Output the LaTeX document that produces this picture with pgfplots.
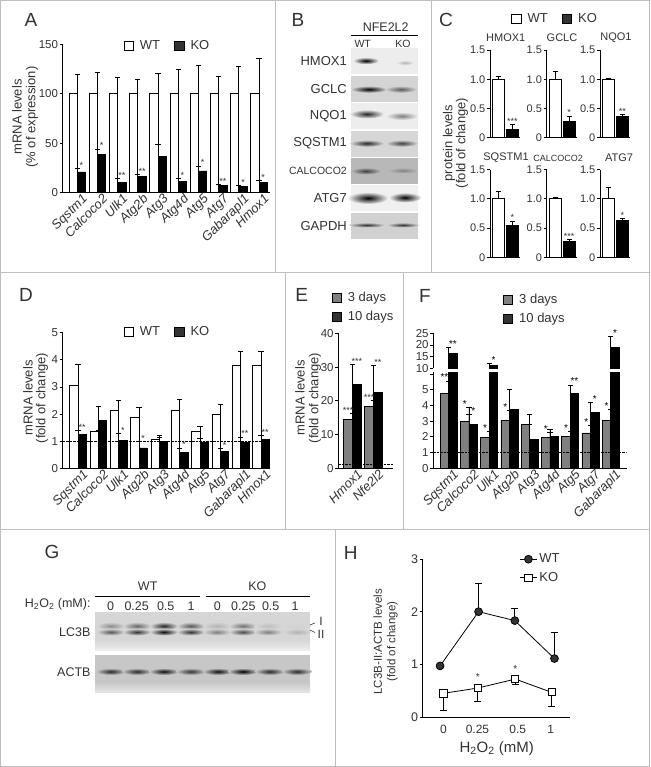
\documentclass[border=0pt]{standalone}
\usepackage{fontspec}
\setmainfont{Liberation Sans}
\usepackage{pgfplots}
\usepackage{pgfplotstable}
\pgfplotsset{compat=1.18}
\definecolor{txt}{HTML}{333333}
\definecolor{frame}{HTML}{BDBDBD}
\definecolor{bargray}{HTML}{808080}
\newcommand{\fs}[1]{\fontsize{#1}{#1}\selectfont}

% panel A
\pgfplotstableread{
x y t s
0 100 119.6 {}
1 100 122 {}
2 100 117 {}
3 100 115 {}
4 100 120.7 {}
5 100 124.7 {}
6 100 129 {}
7 100 117.6 {}
8 100 127.7 {}
9 100 135.8 {}
}\Awt
\pgfplotstableread{
x y t s
0 21 24.6 *
1 39 44 *
2 10 14 **
3 16 18 **
4 37 49 {}
5 11 14 *
6 22 27 *
7 7 8.5 **
8 6 7.5 *
9 10 12.5 *
}\Ako
% panel D
\pgfplotstableread{
x y t s
0 3.05 3.82 {}
1 1.37 1.40 {}
2 2.15 2.52 {}
3 1.87 2.25 {}
4 1.07 1.22 {}
5 2.12 2.55 {}
6 1.37 1.55 {}
7 1.97 2.35 {}
8 3.8 4.3 {}
9 3.8 4.3 {}
}\Dwt
\pgfplotstableread{
x y t s
0 1.25 1.38 **
1 1.78 2.28 {}
2 1.03 1.28 *
3 0.75 0.98 *
4 1.0 1.13 {}
5 0.6 0.75 *
6 0.97 1.1 {}
7 0.63 0.73 *
8 0.97 1.15 **
9 1.08 1.22 **
}\Dko
% panel E
\pgfplotstableread{
x y t s
0 14.5 16.3 ***
1 18.3 20 ***
}\Ethree
\pgfplotstableread{
x y t s
0 24.8 30.8 ***
1 22.4 30.4 **
}\Eten
% panel F
\pgfplotstableread{
x y t s
0 4.75 5.55 **
1 2.95 3.85 *
2 1.95 2.35 *
3 3.05 3.65 *
4 2.8 3.4 {}
5 1.95 2.25 *
6 2.05 2.35 *
7 2.25 2.7 *
8 3.02 3.75 *
}\Fthree
\pgfplotstableread{
x y t s
1 2.8 3.4 *
3 3.75 5.0 {}
4 1.85 2.8 {}
5 2.05 2.5 {}
6 4.75 5.3 **
7 3.55 4.2 *
}\Ften
\pgfplotstableread{
x y t s
0 16.5 19 **
2 11.3 12 *
8 19 23.5 *
}\Ftall
% panel H
\pgfplotstableread{
x y t
-0.09 0.97 0.97
0.95 2.0 2.54
1.93 1.83 2.06
3.0 1.11 1.61
}\Hwt
\pgfplotstableread{
x y b
0 0.45 0.13
0.93 0.55 0.29
1.94 0.72 0.61
2.92 0.47 0.2
}\Hko
\pgfplotstableread{
x y s
0.93 0.69 *
1.94 0.845 *
}\Hstar

\pgfplotsset{
  panel/.style={scale only axis, anchor=south west, axis x line*=bottom, axis y line*=left,
    axis line style={black, line width=0.8pt}, clip=false,
    /pgf/number format/assume math mode=true,
    tick style={black, line width=0.7pt}, tick align=outside, major tick length=3pt,
    xtick style={draw=none},
    y tick label style={font=\fs{11.5}, text=txt, inner sep=1.5pt}, xtick=data},
  genelabels/.style={x tick label style={font=\fs{13}\itshape, text=txt, rotate=45, anchor=north east, inner sep=0pt, xshift=5pt, yshift=-1pt}},
  sq/.style={legend image code/.code={\draw[##1] (0pt,-4.5pt) rectangle (9.5pt,4.5pt); \path (14pt,0pt);}},
  errs/.style={error bars/.cd, y dir=plus, y explicit, error bar style={black, line width=0.8pt},
    error mark options={rotate=90, black, mark size=2.6pt, line width=0.8pt}},
}
\def\bw{8.3pt}
\def\stf{\fs{9}}
\def\stc{txt}
\def\genes{Sqstm1,Calcoco2,Ulk1,Atg2b,Atg3,Atg4d,Atg5,Atg7,Gabarapl1,Hmox1}

% table, fill, bar shift
\newcommand{\bars}[3]{
  \addplot[forget plot, ybar, bar width=\bw, bar shift=#3, draw=black, line width=0.8pt, fill=#2, errs]
    table[x=x, y=y, y error expr=\thisrow{t}-\thisrow{y}] {#1};
  \addplot[forget plot, only marks, mark=*, mark size=0pt, draw=none, fill=none, point meta=explicit symbolic,
    nodes near coords, nodes near coords style={font=\stf, text=\stc, anchor=south, inner sep=0pt, xshift=#3}]
    table[x=x, y=t, meta=s] {#1};
}
% x, y of the legend, columns, images and entries
\newcommand{\legbox}[4]{
  \begin{axis}[hide axis, scale only axis, width=1pt, height=1pt, xmin=0, xmax=1, ymin=0, ymax=1,
    at={(#1pt,-#2pt)}, anchor=center, legend columns=#3, legend cell align=left,
    legend style={at={(0,0.5)}, anchor=west, draw=none, fill=none, inner sep=0pt, outer sep=0pt,
      font=\fs{13}, text=txt, row sep=4pt, /tikz/every even column/.append style={column sep=12pt}}]
    #4
  \end{axis}
}
% small panels of C: x, y, WT, top, KO, top, stars
\newcommand{\cpanel}[7]{
  \begin{axis}[panel, at={(#1pt,-#2pt)}, width=30pt, height=87.7pt, xmin=-0.6, xmax=1.54, ymin=0, ymax=1.5,
    ytick={0,0.5,1,1.5}, yticklabels={0,0.5,1.0,1.5}, xtick=\empty, y tick label style={font=\fs{11}}]
    \addplot[forget plot, ybar, bar width=12pt, bar shift=0pt, draw=black, line width=0.8pt, fill=white, errs]
      table[row sep=\\, x=x, y=y, y error expr=\thisrow{t}-\thisrow{y}] {x y t\\ 0 #3 #4\\};
    \addplot[forget plot, ybar, bar width=12pt, bar shift=0pt, draw=black, line width=0.8pt, fill=black, errs]
      table[row sep=\\, x=x, y=y, y error expr=\thisrow{t}-\thisrow{y}] {x y t\\ 1 #5 #6\\};
    \addplot[forget plot, only marks, mark=*, mark size=0pt, draw=none, fill=none, point meta=explicit symbolic,
      nodes near coords, nodes near coords style={font=\stf, text=txt, anchor=south, inner sep=0pt}]
      table[row sep=\\, x=x, y=t, meta=s] {x t s\\ 1 #6 #7\\};
  \end{axis}
}
\newcommand{\band}[6]{\shade[inner color=#5, outer color=#6] (#1,#2) ellipse [x radius=#3pt, y radius=#4pt];}
\begin{document}
\begin{tikzpicture}[x=1pt, y=-1pt]
\useasboundingbox (0,0) rectangle (650,767);
\fill[white] (0,0) rectangle (650,767);

% frames
\draw[frame, line width=0.9pt] (0.5,0.5) rectangle (649.5,766.5);
\draw[frame, line width=0.9pt] (0,272.3) -- (650,272.3) (0,529) -- (650,529);
\draw[frame, line width=0.9pt] (275,0) -- (275,272.3) (431.7,0) -- (431.7,272.3);
\draw[frame, line width=0.9pt] (285,272.3) -- (285,529) (403.5,272.3) -- (403.5,529);
\draw[frame, line width=0.9pt] (335.7,529) -- (335.7,767);

% panel letters
\foreach \l/\x/\y in {A/31/20, B/298/20, C/446/20, D/26/295, E/301.7/295, F/425/296, G/52/552, H/350.7/553}
  \node[font=\fs{19}, text=txt] at (\x,\y) {\l};

% ---- A
\begin{axis}[panel, genelabels, at={(62.7pt,-192.7pt)}, width=207.3pt, height=148.4pt, xmin=-0.72, xmax=9.54, ymin=0, ymax=150,
  ytick={0,50,100,150}, xtick={0,...,9}, xticklabels/.expanded={\genes}]
  \bars{\Awt}{white}{-4.15pt}
  \bars{\Ako}{black}{4.15pt}
\end{axis}
\legbox{124}{46}{2}{\addlegendimage{sq, black, fill=white}\addlegendentry{WT}\addlegendimage{sq, black, fill=txt}\addlegendentry{KO}}
\node[rotate=90, font=\fs{13}, text=txt] at (17,117) {mRNA levels};
\node[rotate=90, font=\fs{13}, text=txt] at (32,117) {(\% of expression)};

% ---- B
\foreach \n/\y/\f in {HMOX1/61/13, GCLC/89/13, NQO1/116/13, SQSTM1/143/13, CALCOCO2/171/10.5, ATG7/198/13, GAPDH/226/13}
  \node[anchor=east, font=\fs{\f}, text=txt, inner sep=0pt] at (347,\y) {\n};
\node[font=\fs{12.5}, text=txt] at (385.7,26.7) {NFE2L2};
\draw[black, line width=0.8pt] (350.7,35) -- (418.3,35);
\node[font=\fs{10.5}, text=txt] at (362.7,43.7) {WT};
\node[font=\fs{10.5}, text=txt] at (403,43.7) {KO};
\fill[black!7] (350.7,48.3) rectangle (418.3,74);
\band{366}{60.7}{13}{3.5}{black}{black!7}
\band{405}{62.7}{9}{2.5}{black!30}{black!7}
\fill[black!17] (350.7,76) rectangle (418.3,101.7);
\band{369}{89.3}{18}{3.5}{black}{black!17}
\band{401}{89.3}{16}{3.5}{black!65}{black!17}
\fill[black!7] (350.7,103.3) rectangle (418.3,129.3);
\band{367}{114}{17}{4.5}{black!85}{black!7}
\band{402}{116}{16}{4}{black!50}{black!7}
\fill[black!16] (350.7,130.7) rectangle (418.3,156.7);
\band{367}{143.3}{17}{3.5}{black!85}{black!16}
\band{402}{143.3}{16}{3.5}{black!75}{black!16}
\fill[black!28] (350.7,158) rectangle (418.3,184);
\band{366}{171}{15}{3.5}{black!75}{black!28}
\band{403}{170.5}{15}{3}{black!48}{black!28}
\fill[black!6] (350.7,185.3) rectangle (418.3,210.7);
\band{368}{198}{20}{6}{black}{black!6}
\band{405}{197.5}{16}{5}{black}{black!6}
\fill[black!18] (350.7,212.7) rectangle (418.3,238.7);
\band{367}{225}{18}{2.5}{black!80}{black!18}
\band{403}{225}{16}{2.5}{black!80}{black!18}

% ---- C
\legbox{511.7}{19}{2}{\addlegendimage{sq, black, fill=white}\addlegendentry{WT}\addlegendimage{sq, black, fill=txt}\addlegendentry{KO}}
\cpanel{490}{137.7}{1.0}{1.05}{0.15}{0.22}{***}
\cpanel{546.7}{137.7}{1.0}{1.13}{0.28}{0.37}{*}
\cpanel{600}{137.7}{1.0}{1.02}{0.37}{0.40}{**}
\cpanel{490}{257.3}{1.0}{1.13}{0.55}{0.62}{*}
\cpanel{546.7}{257.3}{1.0}{1.03}{0.28}{0.30}{***}
\cpanel{600}{257.3}{1.0}{1.2}{0.63}{0.66}{*}
\foreach \n/\x/\y/\f in {HMOX1/505.7/38/11, GCLC/562/38/11, NQO1/616/38/11, SQSTM1/506/158/11, CALCOCO2/558/158/9, ATG7/619/158/11}
  \node[font=\fs{\f}, text=txt] at (\x,\y) {\n};
\node[rotate=90, font=\fs{13}, text=txt] at (449,143) {protein levels};
\node[rotate=90, font=\fs{13}, text=txt] at (462,143) {(fold of change)};

% ---- D
\begin{axis}[panel, genelabels, at={(62.7pt,-468.3pt)}, width=207.3pt, height=135.6pt, xmin=-0.753, xmax=9.44, ymin=0, ymax=5,
  ytick={0,...,5}, xtick={0,...,9}, xticklabels/.expanded={\genes}]
  \bars{\Dwt}{white}{-4.15pt}
  \bars{\Dko}{black}{4.15pt}
  \addplot[forget plot, black, line width=0.6pt, dash pattern=on 2.5pt off 1pt] coordinates {(-0.753,1) (9.44,1)};
\end{axis}
\legbox{124}{332}{2}{\addlegendimage{sq, black, fill=white}\addlegendentry{WT}\addlegendimage{sq, black, fill=txt}\addlegendentry{KO}}
\node[rotate=90, font=\fs{13}, text=txt] at (28,398) {mRNA levels};
\node[rotate=90, font=\fs{13}, text=txt] at (42,398) {(fold of change)};

% ---- E
\def\bw{8.8pt}
\begin{axis}[panel, genelabels, at={(338.3pt,-468.3pt)}, width=55pt, height=135pt, xmin=-0.68, xmax=1.94, ymin=0, ymax=40,
  ytick={0,10,...,40}, xtick={0,1}, xticklabels={Hmox1,Nfe2l2}]
  \bars{\Ethree}{bargray}{-4.4pt}
  \bars{\Eten}{black}{4.4pt}
  \addplot[forget plot, black, line width=0.6pt, dash pattern=on 2.5pt off 1pt] coordinates {(-0.68,1.2) (1.94,1.2)};
\end{axis}
\legbox{332}{307}{1}{\addlegendimage{sq, black, fill=bargray}\addlegendentry{3 days}\addlegendimage{sq, black, fill=txt}\addlegendentry{10 days}}
\node[rotate=90, font=\fs{13}, text=txt] at (300,398) {mRNA levels};
\node[rotate=90, font=\fs{13}, text=txt] at (315,398) {(fold of change)};

% ---- F
\def\bw{8.5pt}
\def\stf{\fs{10}}
\def\stc{black}
\begin{axis}[panel, genelabels, clip=true, clip mode=individual, at={(433.3pt,-468.3pt)}, width=193.4pt, height=96.3pt, xmin=-0.76, xmax=8.79, ymin=0, ymax=6.12,
  ytick={0,...,6}, yticklabels={0,1,2,3,4,5,{}}, xtick={0,...,8}, xticklabels={Sqstm1,Calcoco2,Ulk1,Atg2b,Atg3,Atg4d,Atg5,Atg7,Gabarapl1}]
  \bars{\Fthree}{bargray}{-4.25pt}
  \bars{\Ften}{black}{4.25pt}
  \addplot[forget plot, ybar, bar width=\bw, bar shift=4.25pt, draw=black, line width=0.8pt, fill=black] table[x=x, y=y] {\Ftall};
  \addplot[forget plot, black, line width=0.6pt, dash pattern=on 2.5pt off 1pt] coordinates {(-0.76,1) (8.79,1)};
\end{axis}
\begin{axis}[panel, clip=true, clip mode=individual, axis x line=none, at={(433.3pt,-368.3pt)}, width=193.4pt, height=35pt, xmin=-0.76, xmax=8.79, ymin=10, ymax=25,
  ytick={10,15,20,25}, xtick=\empty]
  \bars{\Ftall}{black}{4.25pt}
\end{axis}
\legbox{503.3}{309}{1}{\addlegendimage{sq, black, fill=bargray}\addlegendentry{3 days}\addlegendimage{sq, black, fill=txt}\addlegendentry{10 days}}

% ---- G
\node[font=\fs{12.5}, text=txt] at (147.7,585.7) {WT};
\node[font=\fs{12.5}, text=txt] at (257.3,585.7) {KO};
\draw[black, line width=0.8pt] (95,596.3) -- (200,596.3) (205.7,596.3) -- (310,596.3);
\node[anchor=east, font=\fs{12.5}, text=txt, inner sep=0pt] at (90.7,604.3) {H\textsubscript{2}O\textsubscript{2} (mM):};
\foreach \l/\x in {0/110.7, 0.25/136.7, 0.5/165.7, 1/191, 0/217.3, 0.25/243.3, 0.5/270.7, 1/295}
  \node[font=\fs{12.5}, text=txt] at (\x,605.7) {\l};
\node[anchor=east, font=\fs{12.5}, text=txt, inner sep=0pt] at (90.7,631.7) {LC3B};
\node[anchor=east, font=\fs{12.5}, text=txt, inner sep=0pt] at (90.7,671.7) {ACTB};
\fill[black!16] (95,612) rectangle (310,640);
\shade[top color=black!16, bottom color=black!7] (95,640) rectangle (310,650);
\foreach \x/\a/\b in {111/45/65, 137/60/80, 164/85/95, 191/65/80, 217/30/50, 243/55/70, 268/25/50, 297/18/30}{
  \band{\x}{626}{14}{4}{black!\a}{black!16}
  \band{\x}{632}{14}{3.5}{black!\b}{black!16}
}
\draw[txt, line width=0.6pt] (310,625) -- (315,623) (310,630) -- (315,632.5);
\node[font=\fs{12}, text=txt] at (321,621) {I};
\node[font=\fs{12}, text=txt] at (321,634) {II};
\fill[black!22] (95,655) rectangle (310,682);
\shade[top color=black!22, bottom color=black!10] (95,682) rectangle (310,692.7);
\foreach \x/\a in {111/85, 137/85, 164/95, 191/80, 218/95, 243/100, 270/85, 297/85}{
  \band{\x}{671.5}{15}{3.5}{black!\a}{black!22}
}

% ---- H
\begin{axis}[panel, at={(422.7pt,-717pt)}, width=147.3pt, height=158pt, xmin=-0.559, xmax=3.42, ymin=0, ymax=3,
  ytick={0,1,2,3}, xtick={0,0.92,2.01,2.9}, xticklabels={0,0.25,0.5,1},
  x tick label style={font=\fs{12}, text=txt, anchor=north, yshift=-2pt}, y tick label style={font=\fs{12.5}}]
  \addplot[forget plot, black, line width=0.8pt, mark=*, mark size=3.9pt, mark options={fill=txt},
    error bars/.cd, y dir=plus, y explicit, error bar style={black, line width=0.8pt},
    error mark options={rotate=90, black, mark size=3.5pt, line width=0.8pt}]
    table[x=x, y=y, y error expr=\thisrow{t}-\thisrow{y}] {\Hwt};
  \addplot[forget plot, black, line width=0.8pt, mark=square*, mark size=3.6pt, mark options={fill=white},
    error bars/.cd, y dir=minus, y explicit, error bar style={black, line width=0.8pt},
    error mark options={rotate=90, black, mark size=3.5pt, line width=0.8pt}]
    table[x=x, y=y, y error expr=\thisrow{y}-\thisrow{b}] {\Hko};
  \addplot[forget plot, only marks, mark=*, mark size=0pt, draw=none, fill=none, point meta=explicit symbolic,
    nodes near coords, nodes near coords style={font=\fs{10}, text=txt, anchor=south, inner sep=0pt}]
    table[x=x, y=y, meta=s] {\Hstar};
\end{axis}
\legbox{520}{568.5}{1}{\addlegendimage{black, line width=0.8pt, mark=*, mark size=3.9pt, mark options={fill=txt}}\addlegendentry{WT}\addlegendimage{black, line width=0.8pt, mark=square*, mark size=3.6pt, mark options={fill=white}}\addlegendentry{KO}}
\node[rotate=90, font=\fs{11.5}, text=txt] at (377.7,641.7) {LC3B-II:ACTB levels};
\node[rotate=90, font=\fs{11.5}, text=txt] at (392.3,641.7) {(fold of change)};
\node[font=\fs{15}, text=txt] at (496.7,748.3) {H\textsubscript{2}O\textsubscript{2} (mM)};
\end{tikzpicture}
\end{document}
